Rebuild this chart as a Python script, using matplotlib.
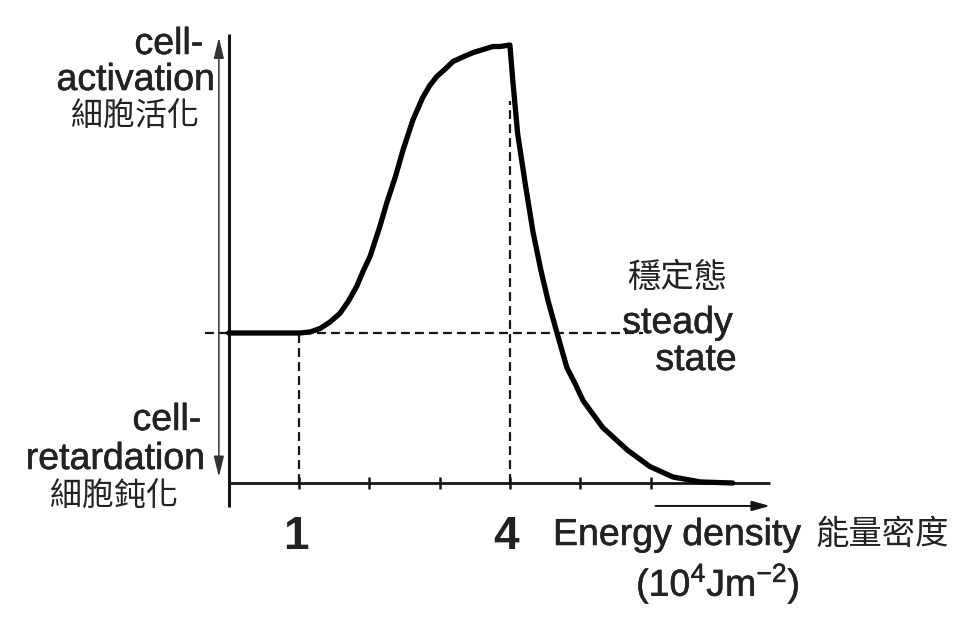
import numpy as np
import matplotlib
matplotlib.use("Agg")
import matplotlib.pyplot as plt
import matplotlib.patheffects as pe

plt.rcParams['font.family'] = ['Liberation Sans', 'Noto Sans CJK TC']
plt.rcParams['mathtext.default'] = 'regular'

# curve (energy density in 10^4 J/m^2, response with steady state = 1)
energy = [0.0, 0.73, 1.01, 1.16, 1.30, 1.44, 1.58, 1.70, 1.82, 1.91, 2.01, 2.15,
          2.25, 2.37, 2.48, 2.62, 2.76, 2.86, 2.96, 3.08, 3.19, 3.33, 3.48, 3.62,
          3.76, 3.86, 4.00,
          4.04, 4.11, 4.22, 4.33, 4.44, 4.54, 4.67, 4.81, 4.93, 5.04, 5.32, 5.67,
          5.99, 6.32, 6.71, 7.17]
response = [1.0, 1.0, 1.0, 1.007, 1.03, 1.073, 1.13, 1.21, 1.31, 1.41, 1.51, 1.71,
            1.87, 2.04, 2.22, 2.42, 2.57, 2.65, 2.71, 2.76, 2.81, 2.84, 2.87, 2.89,
            2.91, 2.91, 2.92,
            2.69, 2.33, 1.99, 1.67, 1.42, 1.22, 1.00, 0.77, 0.66, 0.55, 0.37, 0.22,
            0.11, 0.04, 0.007, 0.0]
steady = 1.0
tick_pos = [1, 2, 3, 4, 5, 6]
marked = [1, 4]
tick_labels = ['1', '4']
x_end = 7.7
y_top = 2.99

ink = '#151515'

# pixel -> data mapping of the original drawing
X0, XS = 228.7, 70.3
Y0, YS = 483.0, 150.0
def px(x, y):
    return (x - X0) / XS, (Y0 - y) / YS

fig = plt.figure(figsize=(9.66, 6.29), dpi=100)
ax = fig.add_axes([0, 0, 1, 1])
ax.set_xlim(-X0 / XS, (966 - X0) / XS)
ax.set_ylim((Y0 - 629) / YS, Y0 / YS)
ax.axis('off')

# axes lines
ax.plot([0, 0], [y_top, -0.16], color=ink, lw=2.2, solid_capstyle='butt')
ax.plot([0, x_end], [0, 0], color=ink, lw=2.0, solid_capstyle='butt')
ax.plot(tick_pos, [0] * len(tick_pos), ls='none', marker='|', ms=9, mew=1.8, color=ink)

# double arrow next to y axis
ax.annotate('', xy=(-0.14, 2.97), xytext=(-0.14, 0.04),
            arrowprops=dict(arrowstyle='<|-|>,head_length=0.9,head_width=0.22',
                            lw=1.1, color='#333333', mutation_scale=14,
                            shrinkA=0, shrinkB=0))
# arrow under the x axis
ax.annotate('', xy=(x_end, -0.153), xytext=(6.07, -0.153),
            arrowprops=dict(arrowstyle='-|>,head_length=0.9,head_width=0.25',
                            lw=1.4, color=ink, mutation_scale=12,
                            shrinkA=0, shrinkB=0))

# dashed guide lines
dash = (0, (4, 2.3))
ax.plot([-0.34, 5.9], [steady, steady], color=ink, lw=1.6, ls=dash)
ax.plot([marked[0], marked[0]], [0, steady], color=ink, lw=1.6, ls=dash)
ax.plot([marked[1], marked[1]], [0, 2.55], color=ink, lw=1.6, ls=dash)

# the response curve
ax.plot(energy, response, color='black', lw=3.8, solid_joinstyle='round',
        solid_capstyle='round')

# labels
heavy = [pe.withStroke(linewidth=0.4, foreground='#222222')]
def label(x, y, s, **kw):
    kw.setdefault('color', '#222222')
    ax.text(*px(x, y), s, **kw)

cjk = 'Noto Sans CJK TC'
label(203, 54, 'cell-', fontsize=27, ha='right', va='baseline', path_effects=heavy)
label(215, 90, 'activation', fontsize=27, ha='right', va='baseline', path_effects=heavy)
label(134.5, 117, '細胞活化', fontsize=23, ha='center', va='center', family=cjk)
label(201, 430, 'cell-', fontsize=27, ha='right', va='baseline', path_effects=heavy)
label(205, 469, 'retardation', fontsize=27, ha='right', va='baseline', path_effects=heavy)
label(114, 497, '細胞鈍化', fontsize=23, ha='center', va='center', family=cjk)

for t, s in zip(marked, tick_labels):
    ax.text(t - 0.05, px(0, 537)[1], s, fontsize=33, fontweight='bold',
            ha='center', va='center', color='#222222')

label(553, 545, 'Energy density', fontsize=27, ha='left', va='baseline', path_effects=heavy)
label(815, 534, '能量密度', fontsize=24, ha='left', va='center', family=cjk)
label(718, 583, '(10$^4$Jm$^{-2}$)', fontsize=27, ha='center', va='center', path_effects=heavy)

label(677, 278, '穩定態', fontsize=24, ha='center', va='center', family=cjk)
label(733, 333, 'steady', fontsize=27, ha='right', va='baseline', path_effects=heavy)
label(737, 370, 'state', fontsize=27, ha='right', va='baseline', path_effects=heavy)

fig.savefig('out.png', dpi=100, facecolor='white')
